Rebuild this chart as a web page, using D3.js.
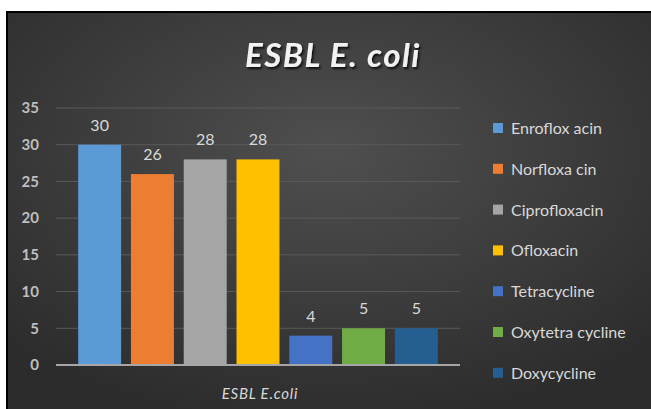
<!DOCTYPE html>
<html>
<head>
<meta charset="utf-8">
<script src="https://cdn.jsdelivr.net/npm/d3@7"></script>
<style>
  html, body { margin: 0; padding: 0; background: #fff; }
  svg { display: block; }
</style>
</head>
<body>
<script>
// chart values
const drugs = ["Enrofloxacin", "Norfloxacin", "Ciprofloxacin", "Ofloxacin", "Tetracycline", "Oxytetracycline", "Doxycycline"];
const legendLabels = ["Enroflox acin", "Norfloxa cin", "Ciprofloxacin", "Ofloxacin", "Tetracycline", "Oxytetra cycline", "Doxycycline"];
const counts = [30, 26, 28, 28, 4, 5, 5];
const colors = ["#5b9bd5", "#ed7d31", "#a5a5a5", "#ffc000", "#4472c4", "#70ad47", "#255e91"];
const yTicks = [0, 5, 10, 15, 20, 25, 30, 35];

const W = 651, H = 409;
const font = "Lato, 'Open Sans', sans-serif";

const svg = d3.select("body").append("svg")
	.attr("width", W)
	.attr("height", H);

const defs = svg.append("defs");
const bg = defs.append("radialGradient")
	.attr("id", "bg")
	.attr("cx", "0.5").attr("cy", "0.35").attr("r", "0.7");
bg.append("stop").attr("offset", "0").attr("stop-color", "#4f4f4f");
bg.append("stop").attr("offset", "1").attr("stop-color", "#2c2c2c");

const shadow = defs.append("filter").attr("id", "shadow")
	.attr("x", "-10%").attr("y", "-20%").attr("width", "130%").attr("height", "150%");
shadow.append("feDropShadow")
	.attr("dx", 1.5).attr("dy", 2).attr("stdDeviation", 1.2)
	.attr("flood-color", "#000").attr("flood-opacity", 0.8);

// chart frame
svg.append("rect")
	.attr("x", 6).attr("y", 11)
	.attr("width", W - 6).attr("height", H - 11)
	.attr("fill", "url(#bg)");
svg.append("path")
	.attr("d", `M7,${H} V12 H${W}`)
	.attr("fill", "none")
	.attr("stroke", "#000")
	.attr("stroke-width", 2);

// title
svg.append("text")
	.attr("x", 333).attr("y", 67)
	.attr("text-anchor", "middle")
	.attr("font-family", font)
	.attr("font-size", 33)
	.attr("font-weight", "bold")
	.attr("font-style", "italic")
	.attr("letter-spacing", 1.5)
	.attr("fill", "#f2f2f2")
	.attr("filter", "url(#shadow)")
	.text("ESBL  E. coli");

const x = d3.scaleBand()
	.domain(drugs)
	.range([56, 460])
	.paddingInner(0.186)
	.paddingOuter(0.42);

const y = d3.scaleLinear()
	.domain([0, 35])
	.range([365, 108]);

// gridlines
svg.append("g")
	.selectAll("line")
	.data(yTicks.filter(d => d > 0))
	.join("line")
		.attr("x1", 56).attr("x2", 460)
		.attr("y1", d => y(d)).attr("y2", d => y(d))
		.attr("stroke", "#5a5a5a")
		.attr("stroke-width", 1);

// y axis labels
const yAxis = svg.append("g")
	.attr("transform", "translate(39,0)")
	.call(d3.axisLeft(y).tickValues(yTicks).tickSize(0).tickPadding(0));
yAxis.select(".domain").remove();
yAxis.selectAll("text")
	.attr("font-family", font)
	.attr("font-size", 15)
	.attr("font-weight", "bold")
	.attr("fill", "#bfbfbf");

// bars
svg.append("g")
	.selectAll("rect")
	.data(drugs)
	.join("rect")
		.attr("x", d => x(d))
		.attr("y", (d, i) => y(counts[i]))
		.attr("width", x.bandwidth())
		.attr("height", (d, i) => y(0) - y(counts[i]))
		.attr("fill", (d, i) => colors[i]);

// value labels
svg.append("g")
	.selectAll("text")
	.data(drugs)
	.join("text")
		.attr("x", d => x(d) + x.bandwidth() / 2)
		.attr("y", (d, i) => y(counts[i]) - 14)
		.attr("text-anchor", "middle")
		.attr("font-family", font)
		.attr("font-size", 16)
		.attr("fill", "#d9d9d9")
		.text((d, i) => counts[i]);

// x axis line
svg.append("line")
	.attr("x1", 56).attr("x2", 460)
	.attr("y1", y(0)).attr("y2", y(0))
	.attr("stroke", "#a6a6a6")
	.attr("stroke-width", 2);

svg.append("text")
	.attr("x", 260).attr("y", 399)
	.attr("text-anchor", "middle")
	.attr("font-family", font)
	.attr("font-size", 15)
	.attr("font-style", "italic")
	.attr("letter-spacing", 0.8)
	.attr("fill", "#d9d9d9")
	.text("ESBL E.coli");

// legend
const legend = svg.append("g")
	.selectAll("g")
	.data(legendLabels)
	.join("g")
		.attr("transform", (d, i) => `translate(493,${128 + i * 40.8})`);
legend.append("rect")
	.attr("x", 0).attr("y", -5)
	.attr("width", 10).attr("height", 10)
	.attr("fill", (d, i) => colors[i]);
legend.append("text")
	.attr("x", 18).attr("y", 6)
	.attr("font-family", font)
	.attr("font-size", 16)
	.attr("fill", "#d9d9d9")
	.text(d => d);
</script>
</body>
</html>
